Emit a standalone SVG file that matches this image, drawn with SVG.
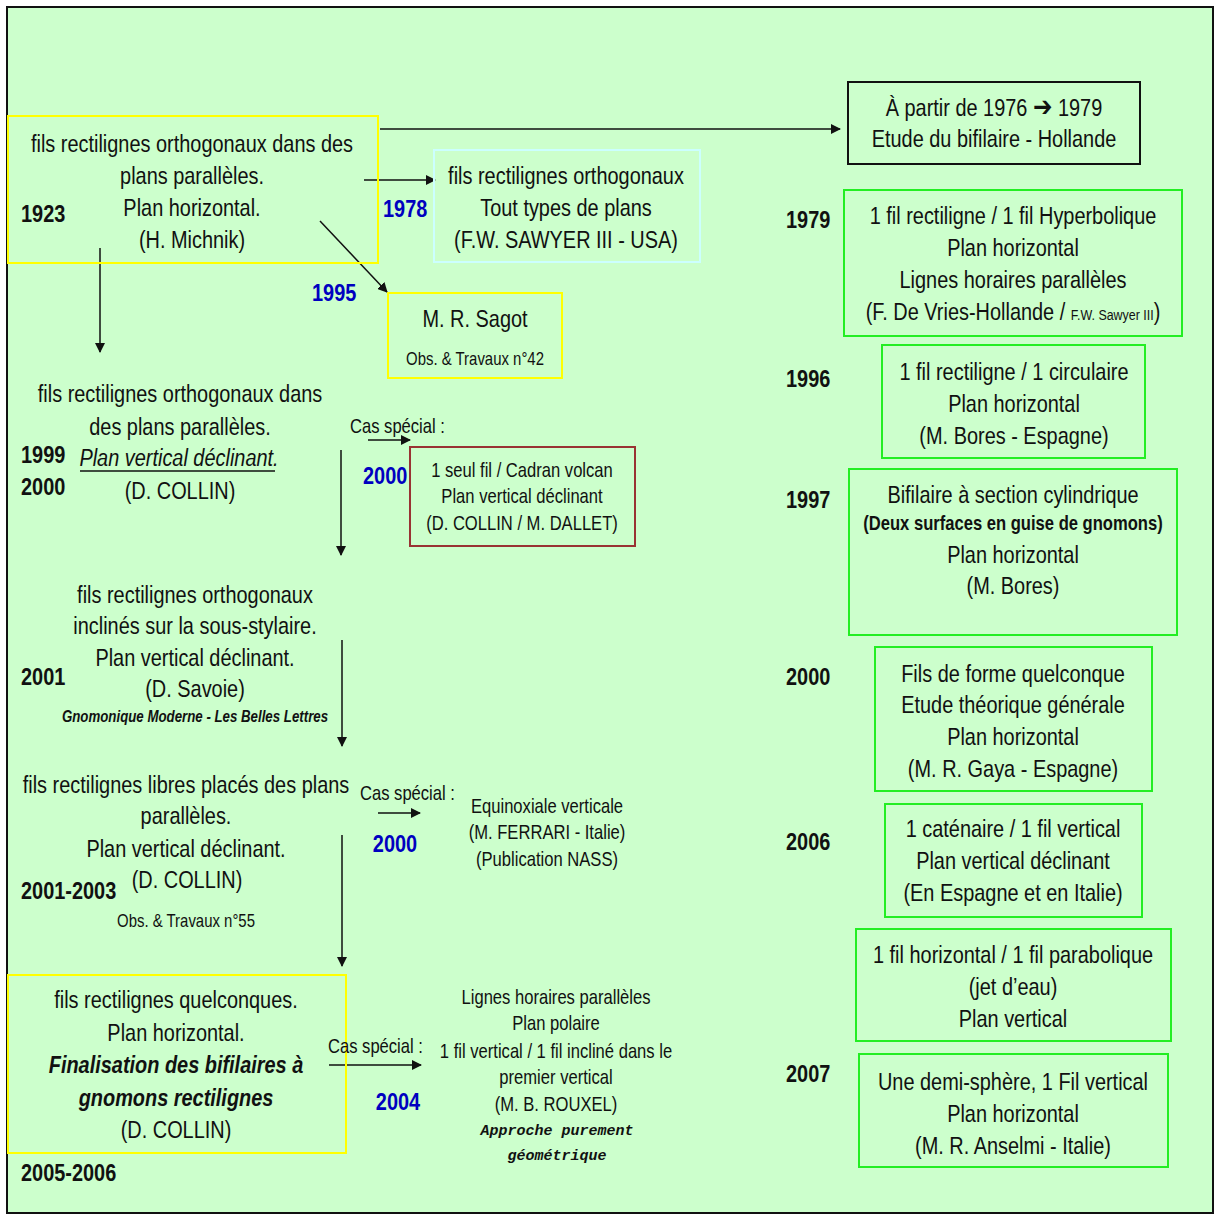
<svg xmlns="http://www.w3.org/2000/svg" width="1218" height="1214" viewBox="0 0 1218 1214">
<style>
text{font-family:"Liberation Sans","Arial",sans-serif;fill:#111;}
.t{font-size:24px;text-anchor:middle;}
.m{font-size:20px;text-anchor:middle;}
.s{font-size:18px;text-anchor:middle;}
.yr{font-size:24px;font-weight:bold;}
.bl{fill:#0000c0;}
.cas{font-size:20px;}
.cr{font-family:"Liberation Mono","Courier New",monospace;font-size:15px;font-weight:bold;font-style:italic;text-anchor:middle;}
.yb{fill:none;stroke:#ffff00;stroke-width:2;}
.gb{fill:none;stroke:#22ee22;stroke-width:2;}
.ln{stroke:#111;stroke-width:1.5;fill:none;marker-end:url(#ah);}
</style>
<defs>
<marker id="ah" viewBox="0 0 10 10" refX="9" refY="5" markerWidth="10" markerHeight="10" markerUnits="userSpaceOnUse" orient="auto">
<path d="M0,0 L10,5 L0,10 z" fill="#111"/>
</marker>
</defs>
<rect x="0" y="0" width="1218" height="1214" fill="#ffffff"/>
<rect x="7" y="7" width="1206" height="1206" fill="#ccffcc" stroke="#111" stroke-width="2"/>

<g id="connectors">
<line class="ln" x1="380" y1="129" x2="840" y2="129"/>
<line class="ln" x1="364" y1="180" x2="435" y2="180"/>
<line class="ln" x1="320" y1="221" x2="387" y2="292"/>
<line class="ln" x1="100" y1="248" x2="100" y2="352"/>
<line class="ln" x1="341" y1="450" x2="341" y2="555"/>
<line class="ln" x1="368" y1="440" x2="410" y2="440"/>
<line class="ln" x1="342" y1="640" x2="342" y2="746"/>
<line class="ln" x1="378" y1="813" x2="420" y2="813"/>
<line class="ln" x1="342" y1="835" x2="342" y2="966"/>
<line class="ln" x1="329" y1="1065" x2="421" y2="1065"/>
</g>

<g id="n1923">
<rect class="yb" x="8" y="116" width="370" height="147"/>
<text class="t" transform="translate(192 152) scale(.83 1)">fils rectilignes orthogonaux dans des</text>
<text class="t" transform="translate(192 184) scale(.83 1)">plans parallèles.</text>
<text class="t" transform="translate(192 216) scale(.83 1)">Plan horizontal.</text>
<text class="t" transform="translate(192 248) scale(.83 1)">(H. Michnik)</text>
<text class="yr" transform="translate(21 222) scale(.83 1)">1923</text>
</g>

<g id="n1978">
<rect x="434" y="150" width="266" height="112" fill="none" stroke="#ccffff" stroke-width="2"/>
<text class="t" transform="translate(566 184) scale(.83 1)">fils rectilignes orthogonaux</text>
<text class="t" transform="translate(566 216) scale(.83 1)">Tout types de plans</text>
<text class="t" transform="translate(566 248) scale(.83 1)">(F.W. SAWYER III - USA)</text>
<text class="yr bl" transform="translate(383 217) scale(.83 1)">1978</text>
</g>

<g id="n1995">
<rect class="yb" x="388" y="293" width="174" height="85"/>
<text class="t" transform="translate(475 327) scale(.83 1)">M. R. Sagot</text>
<text class="s" transform="translate(475 365) scale(.83 1)">Obs. &amp; Travaux n°42</text>
<text class="yr bl" transform="translate(312 301) scale(.83 1)">1995</text>
</g>

<g id="n1999">
<text class="t" transform="translate(180 402) scale(.83 1)">fils rectilignes orthogonaux dans</text>
<text class="t" transform="translate(180 435) scale(.83 1)">des plans parallèles.</text>
<text class="t" font-style="italic" transform="translate(179 466) scale(.83 1)">Plan vertical déclinant.</text>
<line x1="80" y1="471" x2="275" y2="471" stroke="#111" stroke-width="1.5"/>
<text class="t" transform="translate(180 499) scale(.83 1)">(D. COLLIN)</text>
<text class="yr" transform="translate(21 463) scale(.83 1)">1999</text>
<text class="yr" transform="translate(21 495) scale(.83 1)">2000</text>
</g>

<g id="n2000volcan">
<text class="cas" transform="translate(350 433) scale(.83 1)">Cas spécial :</text>
<text class="yr bl" transform="translate(363 484) scale(.83 1)">2000</text>
<rect x="410" y="447" width="225" height="99" fill="none" stroke="#993333" stroke-width="2"/>
<text class="m" transform="translate(522 477) scale(.83 1)">1 seul fil / Cadran volcan</text>
<text class="m" transform="translate(522 503) scale(.83 1)">Plan vertical déclinant</text>
<text class="m" transform="translate(522 530) scale(.83 1)">(D. COLLIN / M. DALLET)</text>
</g>

<g id="n2001">
<text class="t" transform="translate(195 603) scale(.83 1)">fils rectilignes orthogonaux</text>
<text class="t" transform="translate(195 634) scale(.83 1)">inclinés sur la sous-stylaire.</text>
<text class="t" transform="translate(195 666) scale(.83 1)">Plan vertical déclinant.</text>
<text class="t" transform="translate(195 697) scale(.83 1)">(D. Savoie)</text>
<text class="s" font-style="italic" font-weight="bold" style="font-size:16px" transform="translate(195 722) scale(.83 1)">Gnomonique Moderne - Les Belles Lettres</text>
<text class="yr" transform="translate(21 685) scale(.83 1)">2001</text>
</g>

<g id="n2001-2003">
<text class="t" transform="translate(186 793) scale(.83 1)">fils rectilignes libres placés des plans</text>
<text class="t" transform="translate(186 824) scale(.83 1)">parallèles.</text>
<text class="t" transform="translate(186 857) scale(.83 1)">Plan vertical déclinant.</text>
<text class="t" transform="translate(187 888) scale(.83 1)">(D. COLLIN)</text>
<text class="s" transform="translate(186 927) scale(.83 1)">Obs. &amp; Travaux n°55</text>
<text class="yr" transform="translate(21 899) scale(.83 1)">2001-2003</text>
</g>

<g id="n2000ferrari">
<text class="cas" transform="translate(360 800) scale(.83 1)">Cas spécial :</text>
<text class="yr bl" text-anchor="middle" transform="translate(395 852) scale(.83 1)">2000</text>
<text class="m" transform="translate(547 813) scale(.83 1)">Equinoxiale verticale</text>
<text class="m" transform="translate(547 839) scale(.83 1)">(M. FERRARI - Italie)</text>
<text class="m" transform="translate(547 866) scale(.83 1)">(Publication NASS)</text>
</g>

<g id="n2005">
<rect class="yb" x="8" y="975" width="338" height="178"/>
<text class="t" transform="translate(176 1008) scale(.83 1)">fils rectilignes quelconques.</text>
<text class="t" transform="translate(176 1041) scale(.83 1)">Plan horizontal.</text>
<text class="t" font-weight="bold" font-style="italic" transform="translate(176 1073) scale(.83 1)">Finalisation des bifilaires à</text>
<text class="t" font-weight="bold" font-style="italic" transform="translate(176 1106) scale(.83 1)">gnomons rectilignes</text>
<text class="t" transform="translate(176 1138) scale(.83 1)">(D. COLLIN)</text>
<text class="yr" transform="translate(21 1181) scale(.83 1)">2005-2006</text>
</g>

<g id="n2004">
<text class="cas" transform="translate(328 1053) scale(.83 1)">Cas spécial :</text>
<text class="yr bl" text-anchor="middle" transform="translate(398 1110) scale(.83 1)">2004</text>
<text class="m" transform="translate(556 1004) scale(.83 1)">Lignes horaires parallèles</text>
<text class="m" transform="translate(556 1030) scale(.83 1)">Plan polaire</text>
<text class="m" transform="translate(556 1058) scale(.83 1)">1 fil vertical / 1 fil incliné dans le</text>
<text class="m" transform="translate(556 1084) scale(.83 1)">premier vertical</text>
<text class="m" transform="translate(556 1111) scale(.83 1)">(M. B. ROUXEL)</text>
<text class="cr" x="557" y="1135">Approche purement</text>
<text class="cr" x="557" y="1160">géométrique</text>
</g>

<g id="n1976">
<rect x="848" y="82" width="292" height="82" fill="none" stroke="#111" stroke-width="2"/>
<text class="t" transform="translate(994 116) scale(.83 1)">À partir de 1976 <tspan style="font-family:'DejaVu Sans',sans-serif;font-size:28px;font-weight:bold">➔</tspan> 1979</text>
<text class="t" transform="translate(994 147) scale(.83 1)">Etude du bifilaire - Hollande</text>
</g>

<g id="n1979">
<text class="yr" transform="translate(786 228) scale(.83 1)">1979</text>
<rect class="gb" x="844" y="190" width="338" height="146"/>
<text class="t" transform="translate(1013 224) scale(.83 1)">1 fil rectiligne / 1 fil Hyperbolique</text>
<text class="t" transform="translate(1013 256) scale(.83 1)">Plan horizontal</text>
<text class="t" transform="translate(1013 288) scale(.83 1)">Lignes horaires parallèles</text>
<text class="t" transform="translate(1013 320) scale(.83 1)">(F. De Vries-Hollande / <tspan style="font-size:15px">F.W. Sawyer III</tspan>)</text>
</g>

<g id="n1996">
<text class="yr" transform="translate(786 387) scale(.83 1)">1996</text>
<rect class="gb" x="882" y="345" width="263" height="113"/>
<text class="t" transform="translate(1014 380) scale(.83 1)">1 fil rectiligne / 1 circulaire</text>
<text class="t" transform="translate(1014 412) scale(.83 1)">Plan horizontal</text>
<text class="t" transform="translate(1014 444) scale(.83 1)">(M. Bores - Espagne)</text>
</g>

<g id="n1997">
<text class="yr" transform="translate(786 508) scale(.83 1)">1997</text>
<rect class="gb" x="849" y="469" width="328" height="166"/>
<text class="t" transform="translate(1013 503) scale(.83 1)">Bifilaire à section cylindrique</text>
<text class="t" font-weight="bold" style="font-size:20px" transform="translate(1013 530) scale(.83 1)">(Deux surfaces en guise de gnomons)</text>
<text class="t" transform="translate(1013 563) scale(.83 1)">Plan horizontal</text>
<text class="t" transform="translate(1013 594) scale(.83 1)">(M. Bores)</text>
</g>

<g id="n2000gaya">
<text class="yr" transform="translate(786 685) scale(.83 1)">2000</text>
<rect class="gb" x="875" y="647" width="277" height="144"/>
<text class="t" transform="translate(1013 682) scale(.83 1)">Fils de forme quelconque</text>
<text class="t" transform="translate(1013 713) scale(.83 1)">Etude théorique générale</text>
<text class="t" transform="translate(1013 745) scale(.83 1)">Plan horizontal</text>
<text class="t" transform="translate(1013 777) scale(.83 1)">(M. R. Gaya - Espagne)</text>
</g>

<g id="n2006">
<text class="yr" transform="translate(786 850) scale(.83 1)">2006</text>
<rect class="gb" x="885" y="804" width="257" height="113"/>
<text class="t" transform="translate(1013 837) scale(.83 1)">1 caténaire / 1 fil vertical</text>
<text class="t" transform="translate(1013 869) scale(.83 1)">Plan vertical déclinant</text>
<text class="t" transform="translate(1013 901) scale(.83 1)">(En Espagne et en Italie)</text>
</g>

<g id="njet">
<rect class="gb" x="856" y="929" width="315" height="112"/>
<text class="t" transform="translate(1013 963) scale(.83 1)">1 fil horizontal / 1 fil parabolique</text>
<text class="t" transform="translate(1013 995) scale(.83 1)">(jet d’eau)</text>
<text class="t" transform="translate(1013 1027) scale(.83 1)">Plan vertical</text>
</g>

<g id="n2007">
<text class="yr" transform="translate(786 1082) scale(.83 1)">2007</text>
<rect class="gb" x="859" y="1054" width="309" height="113"/>
<text class="t" transform="translate(1013 1090) scale(.83 1)">Une demi-sphère, 1 Fil vertical</text>
<text class="t" transform="translate(1013 1122) scale(.83 1)">Plan horizontal</text>
<text class="t" transform="translate(1013 1154) scale(.83 1)">(M. R. Anselmi - Italie)</text>
</g>
</svg>
